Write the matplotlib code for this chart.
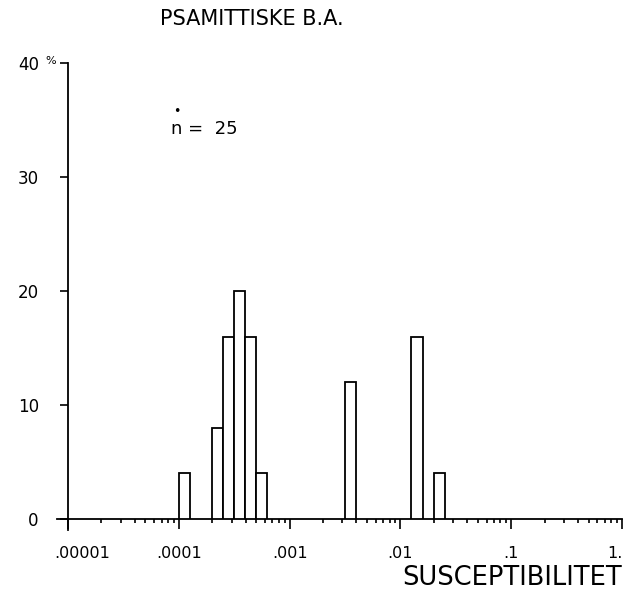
import matplotlib
matplotlib.use("Agg")
import matplotlib.pyplot as plt
import matplotlib.transforms as mtransforms
import numpy as np

# Histogram of magnetic susceptibility, 0.1-decade bins (log10 lower edges)
bin_log_lo = [-4.0, -3.7, -3.6, -3.5, -3.4, -3.3, -2.5, -1.9, -1.7]
counts = [1, 2, 4, 5, 4, 1, 3, 4, 1]
n_samples = 25
bin_width_log = 0.1

x_ticks = [1e-5, 1e-4, 1e-3, 1e-2, 1e-1, 1.0]
x_tick_labels = [".00001", ".0001", ".001", ".01", ".1", "1."]
y_ticks = [0, 10, 20, 30, 40]
y_tick_labels = ["0", "10", "20", "30", "40"]

title = "PSAMITTISKE B.A."
x_label = "SUSCEPTIBILITET"

percent = [c / n_samples * 100 for c in counts]
lefts = [10 ** lo for lo in bin_log_lo]
widths = [10 ** (lo + bin_width_log) - 10 ** lo for lo in bin_log_lo]

plt.rcParams['font.family'] = ['DejaVu Sans']

fig = plt.figure(figsize=(6.24, 5.95), dpi=100)
ax = fig.add_axes([68 / 624, 76 / 595, 554 / 624, 456 / 595])

ax.bar(lefts, percent, width=widths, align='edge',
       facecolor='white', edgecolor='black', linewidth=1.3, zorder=3)

ax.set_xscale('log')
ax.set_xlim(1e-5, 1.0)
ax.set_ylim(0, 40)

for side in ('top', 'right'):
    ax.spines[side].set_visible(False)
for side in ('left', 'bottom'):
    ax.spines[side].set_linewidth(1.3)

# axis lines run a little past the origin, plotter style
ax.plot([-0.02, 0], [0, 0], transform=ax.transAxes, color='black',
        lw=1.3, clip_on=False)
ax.plot([0, 0], [-0.025, 0], transform=ax.transAxes, color='black',
        lw=1.3, clip_on=False)

ax.set_xticks(x_ticks)
ax.set_xticklabels(x_tick_labels, fontsize=11.5)
ax.xaxis.set_minor_locator(matplotlib.ticker.LogLocator(base=10, subs=np.arange(2, 10)))
ax.xaxis.set_minor_formatter(matplotlib.ticker.NullFormatter())
ax.tick_params(axis='x', which='major', direction='out', length=7.5,
               width=1.2, pad=12)
ax.tick_params(axis='x', which='minor', direction='out', length=3,
               width=1.2)

ax.set_yticks(y_ticks)
ax.set_yticklabels(y_tick_labels, fontsize=12)
ax.tick_params(axis='y', which='major', direction='out', length=6,
               width=1.2, pad=15)
ax.yaxis.set_minor_locator(matplotlib.ticker.NullLocator())

# shift the first x label clear of the y axis, keep the last inside the page
labels = ax.get_xticklabels()
labels[0].set_transform(labels[0].get_transform() +
                        mtransforms.ScaledTranslation(14 / 100, 0, fig.dpi_scale_trans))
labels[-1].set_horizontalalignment('right')
labels[-1].set_transform(labels[-1].get_transform() +
                         mtransforms.ScaledTranslation(1 / 100, 0, fig.dpi_scale_trans))

# percent sign beside the top y label
fig.text(51 / 624, 1 - 61 / 595, "%", fontsize=8, ha='center', va='center')

fig.text(160 / 624, 1 - 19 / 595, title, fontsize=15, ha='left', va='center')
fig.text(622 / 624, 1 - 578 / 595, x_label, fontsize=18.5, ha='right', va='center')

fig.text(171 / 624, 1 - 129 / 595, "n =  %d" % n_samples, fontsize=13,
         ha='left', va='center')
fig.text(177 / 624, 1 - 111 / 595, "\u2022", fontsize=9, ha='center', va='center')

fig.savefig("out.png", dpi=100)
